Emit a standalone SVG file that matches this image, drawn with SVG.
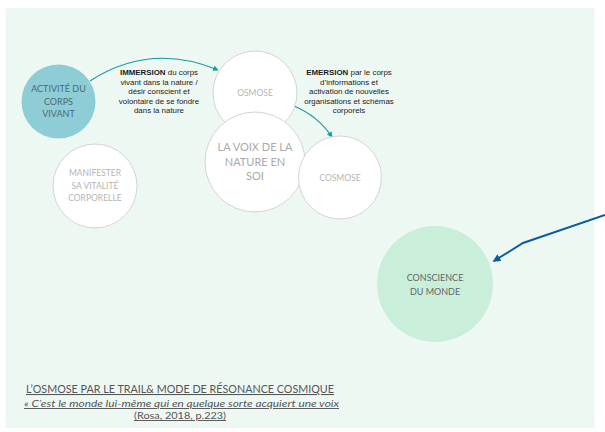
<svg xmlns="http://www.w3.org/2000/svg" width="605" height="432" viewBox="0 0 605 432">
<defs>
<style>
.lbl{font-family:Lato,"Liberation Sans",sans-serif;text-anchor:middle}
.sm{font-family:"Liberation Sans",Arial,sans-serif;font-size:7.9px;fill:#1a1a1a;text-anchor:middle}
.wc{fill:#fff;stroke:#d4d4d4;stroke-width:1}
.cap{font-family:Lato,"Liberation Sans",sans-serif;fill:#555;text-anchor:middle;text-decoration:underline}
</style>
<marker id="ta" viewBox="0 0 10 10" refX="9" refY="5" markerWidth="5" markerHeight="5" orient="auto"><path d="M0,0L10,5L0,10z" fill="#129c9c"/></marker>
<marker id="ba" viewBox="0 0 10 10" refX="8" refY="5" markerWidth="4" markerHeight="4" orient="auto"><path d="M0,0L10,5L0,10z" fill="#0b5d9e"/></marker>
</defs>
<rect x="5.5" y="8" width="589" height="420" fill="#eef8f3"/>
<g id="connectors" fill="none">
<path d="M90,81 Q150,42 218,70" stroke="#129c9c" stroke-width="1.1" marker-end="url(#ta)"/>
<path d="M294,106 Q318,116 332,137" stroke="#129c9c" stroke-width="1.1" marker-end="url(#ta)"/>
<path d="M605,215 L523,243 L494,261" stroke="#0b5d9e" stroke-width="2" marker-end="url(#ba)"/>
</g>
<g id="activite"><circle cx="58.5" cy="101.5" r="37" fill="#8ecdd5"/>
<text class="lbl" font-size="9" fill="#4d6a6e"><tspan x="58.5" y="92">ACTIVITÉ DU</tspan><tspan x="58.5" y="104.5">CORPS</tspan><tspan x="58.5" y="117">VIVANT</tspan></text></g>
<g id="immersion"><text class="sm"><tspan x="159" y="75"><tspan font-weight="bold">IMMERSION</tspan> du corps</tspan><tspan x="159" y="84.5">vivant dans la nature /</tspan><tspan x="159" y="94">désir conscient et</tspan><tspan x="159" y="103.5">volontaire de se fondre</tspan><tspan x="159" y="113">dans la nature</tspan></text></g>
<g id="osmose"><circle class="wc" cx="255" cy="93" r="42"/>
<text class="lbl" x="255" y="96" font-size="8.5" fill="#b5b5b5">OSMOSE</text></g>
<g id="emersion"><text class="sm"><tspan x="349" y="75"><tspan font-weight="bold">EMERSION</tspan> par le corps</tspan><tspan x="349" y="84.5">d’informations et</tspan><tspan x="349" y="94">activation de nouvelles</tspan><tspan x="349" y="103.5">organisations et schémas</tspan><tspan x="349" y="113">corporels</tspan></text></g>
<g id="voix"><circle class="wc" cx="255" cy="162" r="50"/>
<text class="lbl" font-size="11" fill="#aaaaaa"><tspan x="255" y="151">LA VOIX DE LA</tspan><tspan x="255" y="166">NATURE EN</tspan><tspan x="255" y="180">SOI</tspan></text></g>
<g id="cosmose"><circle class="wc" cx="340" cy="177.5" r="41.5"/>
<text class="lbl" x="340" y="180.5" font-size="8.5" fill="#b5b5b5">COSMOSE</text></g>
<g id="manifester"><circle class="wc" cx="95" cy="186" r="42"/>
<text class="lbl" font-size="8.5" fill="#b5b5b5"><tspan x="95" y="176">MANIFESTER</tspan><tspan x="95" y="188.5">SA VITALITÉ</tspan><tspan x="95" y="201">CORPORELLE</tspan></text></g>
<g id="conscience"><circle cx="435" cy="284" r="58" fill="#c9efdb"/>
<text class="lbl" font-size="9" fill="#666"><tspan x="435" y="281">CONSCIENCE</tspan><tspan x="435" y="295">DU MONDE</tspan></text></g>
<g id="caption">
<text class="cap" x="180" y="393" font-size="10.5" textLength="308" lengthAdjust="spacingAndGlyphs">L’OSMOSE PAR LE TRAIL&amp; MODE DE RÉSONANCE COSMIQUE</text>
<text class="cap" x="181.5" y="407" font-size="9.5" font-style="italic" textLength="315" lengthAdjust="spacingAndGlyphs">« C’est le monde lui-même qui en quelque sorte acquiert une voix </text>
<text class="cap" x="180" y="419" font-size="9.5" textLength="92" lengthAdjust="spacingAndGlyphs">(Rosa, 2018, p.223)</text>
</g>
</svg>
